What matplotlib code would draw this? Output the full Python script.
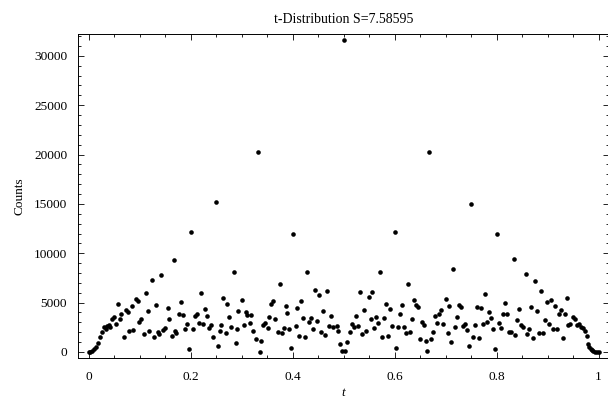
import matplotlib
matplotlib.use("Agg")
import matplotlib.pyplot as plt
from matplotlib.ticker import MultipleLocator, FixedLocator

# bin positions (t) and counts
t_vals = [
    0.000, 0.0035, 0.0075, 0.0107, 0.014, 0.0179, 0.0218, 0.0258, 0.0297, 0.0336,
    0.0369, 0.0401, 0.0421, 0.0467, 0.0493, 0.0532, 0.0571, 0.0617, 0.0643, 0.0702,
    0.0741, 0.0767, 0.080, 0.0846, 0.0878, 0.0924, 0.097, 0.099, 0.103, 0.108,
    0.112, 0.116, 0.119, 0.124, 0.128, 0.132, 0.136, 0.139, 0.143, 0.146,
    0.150, 0.155, 0.158, 0.163, 0.1667, 0.170, 0.172, 0.177,
    0.182, 0.185, 0.190, 0.194, 0.197, 0.200, 0.205, 0.209, 0.213, 0.217,
    0.221, 0.225, 0.229, 0.233, 0.236, 0.241, 0.245, 0.250, 0.254, 0.257,
    0.260, 0.264, 0.269, 0.272, 0.276, 0.280, 0.2857, 0.289, 0.291, 0.294,
    0.300, 0.304, 0.308, 0.311, 0.316, 0.319, 0.323, 0.328, 0.3333, 0.336,
    0.339, 0.342, 0.346, 0.351, 0.354, 0.358, 0.362, 0.366, 0.371, 0.375,
    0.379, 0.383, 0.387, 0.390, 0.394, 0.3975, 0.4005, 0.406, 0.409, 0.413,
    0.417, 0.421, 0.425, 0.4286, 0.433, 0.437, 0.441, 0.445, 0.448, 0.452,
    0.456, 0.460, 0.464, 0.468, 0.472, 0.476, 0.480,
    0.487, 0.490, 0.494, 0.4974, 0.500, 0.5026, 0.507, 0.513, 0.517, 0.520,
    0.525, 0.529, 0.532, 0.537, 0.541, 0.545, 0.549, 0.553, 0.556, 0.560,
    0.564, 0.568, 0.5714, 0.576, 0.580, 0.584, 0.588, 0.592, 0.596, 0.600,
    0.603, 0.607, 0.610, 0.614, 0.618, 0.622, 0.626, 0.630, 0.634, 0.638,
    0.642, 0.646, 0.650, 0.654, 0.657, 0.661, 0.664, 0.6667,
    0.672, 0.675, 0.679, 0.684, 0.687, 0.691, 0.696, 0.700, 0.704, 0.707,
    0.711, 0.7143, 0.719, 0.723, 0.727, 0.731, 0.735, 0.739, 0.743, 0.747,
    0.750, 0.754, 0.758, 0.762, 0.766, 0.770, 0.773, 0.777, 0.781, 0.785,
    0.789, 0.793, 0.797, 0.800, 0.805, 0.809, 0.813, 0.817, 0.820, 0.824,
    0.828, 0.8333, 0.836, 0.840, 0.844, 0.848, 0.852,
    0.8571, 0.860, 0.864, 0.868, 0.871, 0.875, 0.879, 0.883, 0.887, 0.891,
    0.895, 0.898, 0.902, 0.906, 0.910, 0.914, 0.918, 0.922, 0.926, 0.930,
    0.934, 0.938, 0.941, 0.945, 0.949, 0.953, 0.957, 0.961, 0.965, 0.969,
    0.973, 0.977, 0.980, 0.982, 0.985, 0.987, 0.990, 0.994, 0.997, 1.000,
]

counts = [
    0, 34, 135, 304, 473, 878, 1550, 2030, 2570, 2364,
    2634, 2735, 2566, 3343, 3580, 2837, 4829, 3309, 3850, 1486,
    4255, 4086, 2161, 4660, 2263, 5336, 5200, 3005, 3343, 1824,
    6011, 4154, 2128, 7260, 1553, 4728, 1992, 1824, 7801, 2229,
    2398, 4491, 3377, 1655, 9287, 2128, 1959, 3884,
    5099, 3749, 2296, 2870, 304, 12157, 2296, 3647, 3884, 2938,
    5944, 2803, 4323, 3613, 2465, 2769, 1553, 15197, 574, 2128,
    2735, 5471, 1925, 4829, 3546, 2533, 8105, 912, 2296, 4188,
    5268, 2702, 4086, 3715, 2904, 3715, 2094, 1283, 20300, 34,
    1148, 2702, 2972, 2431, 3546, 4829, 5201, 3343, 2060, 6855,
    1959, 2465, 4660, 3951, 2364, 371, 11988, 2600, 4424, 1621,
    5133, 3411, 1486, 8105, 3039, 3478, 2296, 6281, 3174, 5741,
    2060, 4120, 1756, 6146, 2600, 3681, 2499,
    2668, 2094, 810, 68, 31600, 68, 979, 2060, 2803, 2499,
    3647, 2600, 6112, 1790, 4255, 2094, 5572, 3343, 6112, 2398,
    3546, 2938, 8071, 1486, 3445, 4863, 1655, 4390, 2634, 12157,
    371, 2533, 3850, 4728, 2533, 1925, 6889, 2060, 3309, 5234,
    4762, 4525, 1283, 3005, 2735, 1148, 68, 20250,
    1317, 2060, 3681, 2938, 3884, 4289, 2803, 5370, 1959, 4660,
    1013, 8409, 2533, 3580, 4728, 4525, 2668, 2837, 2229, 608,
    14960, 1553, 2702, 4593, 1452, 4424, 2803, 5876, 3005, 4019,
    3445, 2296, 304, 11988, 2972, 2465, 3816, 4998, 3816, 2060,
    1992, 9388, 1756, 3276, 4390, 2702, 2499,
    7936, 1824, 2296, 4593, 1385, 7159, 4188, 1891, 6214, 1891,
    3208, 5066, 2870, 5268, 2296, 4627, 2296, 3850, 4255, 1452,
    3850, 5504, 2769, 2837, 3580, 3309, 2769, 2837, 2499, 2465,
    2161, 1655, 777, 540, 338, 203, 101, 34, 0, 0,
]

x_ticks = [0, 0.2, 0.4, 0.6, 0.8, 1]
x_tick_labels = ["0", "0.2", "0.4", "0.6", "0.8", "1"]
y_ticks = [0, 5000, 10000, 15000, 20000, 25000, 30000]
title = "t-Distribution S=7.58595"

plt.rcParams["font.family"] = ["Liberation Serif", "DejaVu Serif"]

fig = plt.figure(figsize=(6.08, 4.07), dpi=100)
ax = fig.add_axes([0.1288, 0.1197, 0.8724, 0.7975])

ax.plot(t_vals, counts, "o", color="black", markersize=3.3, markeredgewidth=0)

ax.set_xlim(-0.02, 1.02)
ax.set_ylim(-640, 32240)

ax.xaxis.set_major_locator(FixedLocator(x_ticks))
ax.set_xticklabels(x_tick_labels)
ax.xaxis.set_minor_locator(MultipleLocator(0.05))
ax.yaxis.set_major_locator(FixedLocator(y_ticks))
ax.set_yticklabels([str(v) for v in y_ticks])
ax.yaxis.set_minor_locator(MultipleLocator(1000))

ax.tick_params(which="both", direction="in", top=True, right=True,
               width=0.6, labelsize=9.6, color="black")
ax.tick_params(which="major", length=4)
ax.tick_params(which="minor", length=2)
ax.tick_params(axis="x", pad=9)
ax.tick_params(axis="y", pad=8)

for s in ax.spines.values():
    s.set_linewidth(0.7)

ax.set_title(title, fontsize=10, pad=8)
ax.set_xlabel("t", fontsize=9.5, style="italic", labelpad=3)
ax.set_ylabel("Counts", fontsize=9.5, labelpad=6)

fig.savefig("out.png", dpi=100)
